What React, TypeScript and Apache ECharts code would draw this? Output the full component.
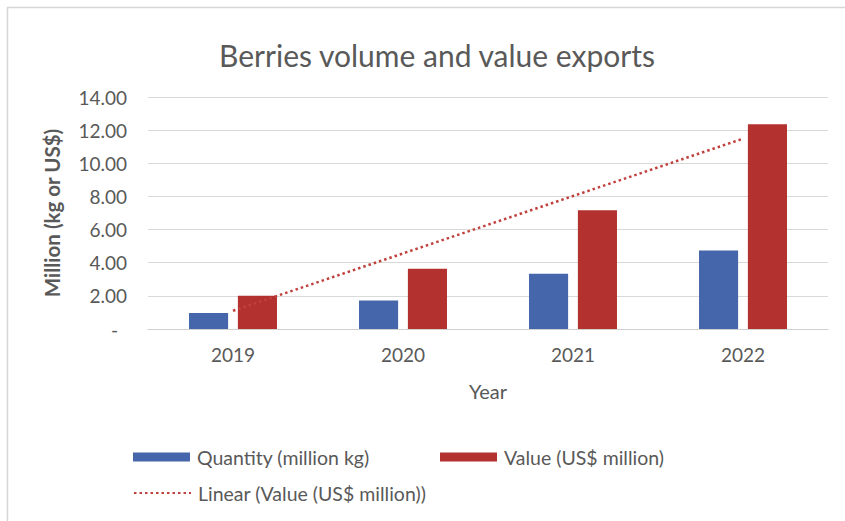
import React, { useEffect, useRef } from "react";
import * as echarts from "echarts";

const years = ["2019", "2020", "2021", "2022"];
const quantity = [0.97, 1.72, 3.33, 4.73];
const value = [2.0, 3.64, 7.17, 12.36];
const yTicks = [0, 2, 4, 6, 8, 10, 12, 14];

const nameQ = "Quantity (million kg)";
const nameV = "Value (US$ million)";
const nameT = "Linear (Value (US$ million))";

// Excel-style linear trendline of the value series (least squares on x = 1..n)
function linearTrend(ys: number[]): number[] {
  const n = ys.length;
  const xs = ys.map((_, i) => i + 1);
  const mx = xs.reduce((a, b) => a + b, 0) / n;
  const my = ys.reduce((a, b) => a + b, 0) / n;
  let num = 0;
  let den = 0;
  for (let i = 0; i < n; i++) {
    num += (xs[i] - mx) * (ys[i] - my);
    den += (xs[i] - mx) * (xs[i] - mx);
  }
  const slope = num / den;
  return xs.map((x) => +(my + slope * (x - mx)).toFixed(3));
}

const FONT = "Lato, 'Open Sans', sans-serif";
const TXT = "#595959";
const BLUE = "#4566AA";
const RED = "#B3312F";
const TREND = "#C0403C";

export default function App() {
  const ref = useRef<HTMLDivElement>(null);
  useEffect(() => {
    if (!ref.current) return;
    const chart = echarts.init(ref.current, undefined, { renderer: "svg" });
    const legendText = { fontFamily: FONT, fontSize: 19.5, color: TXT, padding: [0, 0, 0, 2] };
    chart.setOption({
      animation: false,
      backgroundColor: "#ffffff",
      textStyle: { fontFamily: FONT },
      title: {
        text: "Berries volume and value exports",
        left: 432,
        textAlign: "center",
        top: 35,
        textStyle: { fontFamily: FONT, fontSize: 30, fontWeight: "normal", color: TXT },
      },
      graphic: [
        {
          type: "rect",
          shape: { x: 7.5, y: 7.5, width: 900, height: 600 },
          style: { fill: "none", stroke: "#d6d6d6", lineWidth: 1.5 },
          silent: true,
        },
      ],
      grid: { left: 148, right: 17, top: 97, bottom: 192, containLabel: false },
      xAxis: {
        type: "category",
        data: years,
        name: "Year",
        nameLocation: "middle",
        nameGap: 52,
        nameTextStyle: { fontFamily: FONT, fontSize: 20, color: TXT, verticalAlign: "top" },
        axisLine: { lineStyle: { color: "#d0d0d0", width: 1 } },
        axisTick: { show: false },
        axisLabel: { fontFamily: FONT, fontSize: 19, color: TXT, margin: 16 },
      },
      yAxis: {
        type: "value",
        min: yTicks[0],
        max: yTicks[yTicks.length - 1],
        interval: 2,
        name: "Million (kg or US$)",
        nameLocation: "middle",
        nameRotate: 90,
        nameGap: 86,
        nameTextStyle: { fontFamily: FONT, fontSize: 20.5, fontWeight: "bold", color: TXT },
        axisLine: { show: false },
        axisTick: { show: false },
        splitLine: { lineStyle: { color: "#d9d9d9", width: 1.2 } },
        axisLabel: {
          fontFamily: FONT,
          fontSize: 19,
          color: TXT,
          margin: 21,
          formatter: (v: number) => (v === 0 ? "{z|-}" : v.toFixed(2)),
          rich: { z: { fontFamily: FONT, fontSize: 19, color: TXT, padding: [0, 9, 0, 0] } },
        },
      },
      legend: [
        {
          data: [nameQ],
          left: 133,
          top: 447,
          padding: 0,
          itemWidth: 57,
          itemHeight: 9,
          icon: "rect",
          textStyle: legendText,
        },
        {
          data: [nameV],
          left: 440,
          top: 447,
          padding: 0,
          itemWidth: 57,
          itemHeight: 9,
          icon: "rect",
          textStyle: legendText,
        },
        {
          data: [nameT],
          left: 133,
          top: 483,
          padding: 0,
          itemWidth: 57,
          itemHeight: 9,
          itemStyle: { opacity: 0 },
          textStyle: legendText,
        },
      ],
      series: [
        {
          name: nameQ,
          type: "bar",
          data: quantity,
          barWidth: "23%",
          barGap: "25%",
          itemStyle: { color: BLUE },
        },
        {
          name: nameV,
          type: "bar",
          data: value,
          barWidth: "23%",
          itemStyle: { color: RED },
        },
        {
          name: nameT,
          type: "line",
          data: linearTrend(value),
          symbol: "none",
          z: 5,
          lineStyle: { color: TREND, width: 2.5, type: [2.5, 3] },
          itemStyle: { color: TREND },
        },
      ],
    });
    return () => chart.dispose();
  }, []);
  return (
    <div
      ref={ref}
      style={{ position: "fixed", left: 0, top: 0, width: 845, height: 521 }}
    />
  );
}
